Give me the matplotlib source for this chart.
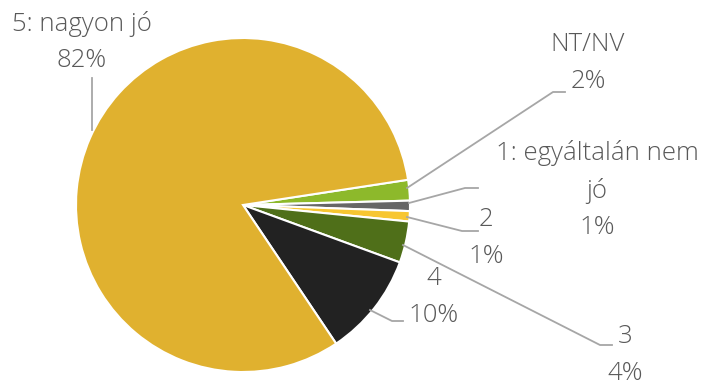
import numpy as np
import matplotlib.pyplot as plt

labels = ['NT/NV', '1: egyáltalán nem\njó', '2', '3', '4', '5: nagyon jó']
values = [2, 1, 1, 4, 10, 82]
colors = ['#8DB92B', '#666666', '#F7C631', '#4F6F19', '#222222', '#E0B12F']

# label text centre (px from top-left) and leader elbow points
label_pos = [(588, 63), (597, 190), (486, 238), (625, 355), (434, 297), (82, 42)]
elbows = [[(553, 92), (565, 92)],
          [(465, 188), (478, 188)],
          [(462, 231), (478, 231)],
          [(600, 345), (612, 345)],
          [(392, 321), (403, 321)],
          [(92, 78)]]
anchors = [(407, 188), (409, 203), (407, 217), (403, 245), (370, 310), (92, 130)]

H = 383
cx, cy, r = 243, 205, 167


def main():
    fig = plt.figure(figsize=(7.06, 3.83), dpi=100)
    ax = fig.add_axes([0, 0, 1, 1])
    ax.pie(values, colors=colors, startangle=8.7, counterclock=False,
           center=(cx, H - cy), radius=r,
           wedgeprops=dict(edgecolor='white', linewidth=1.5))
    ax.set_xlim(0, 706)
    ax.set_ylim(0, H)
    ax.axis('off')

    for lab, v, pos, elb, anc in zip(labels, values, label_pos, elbows, anchors):
        pts = [anc] + elb
        ax.plot([p[0] for p in pts], [H - p[1] for p in pts], color='#A6A6A6', lw=1.3)
        ax.text(pos[0], H - pos[1], '{}\n{}%'.format(lab, v), ha='center', va='center',
                fontsize=18.5, color='#595959', family='Open Sans', fontweight='light',
                linespacing=1.6)

    fig.savefig('out.png', dpi=100)


if __name__ == '__main__':
    main()
